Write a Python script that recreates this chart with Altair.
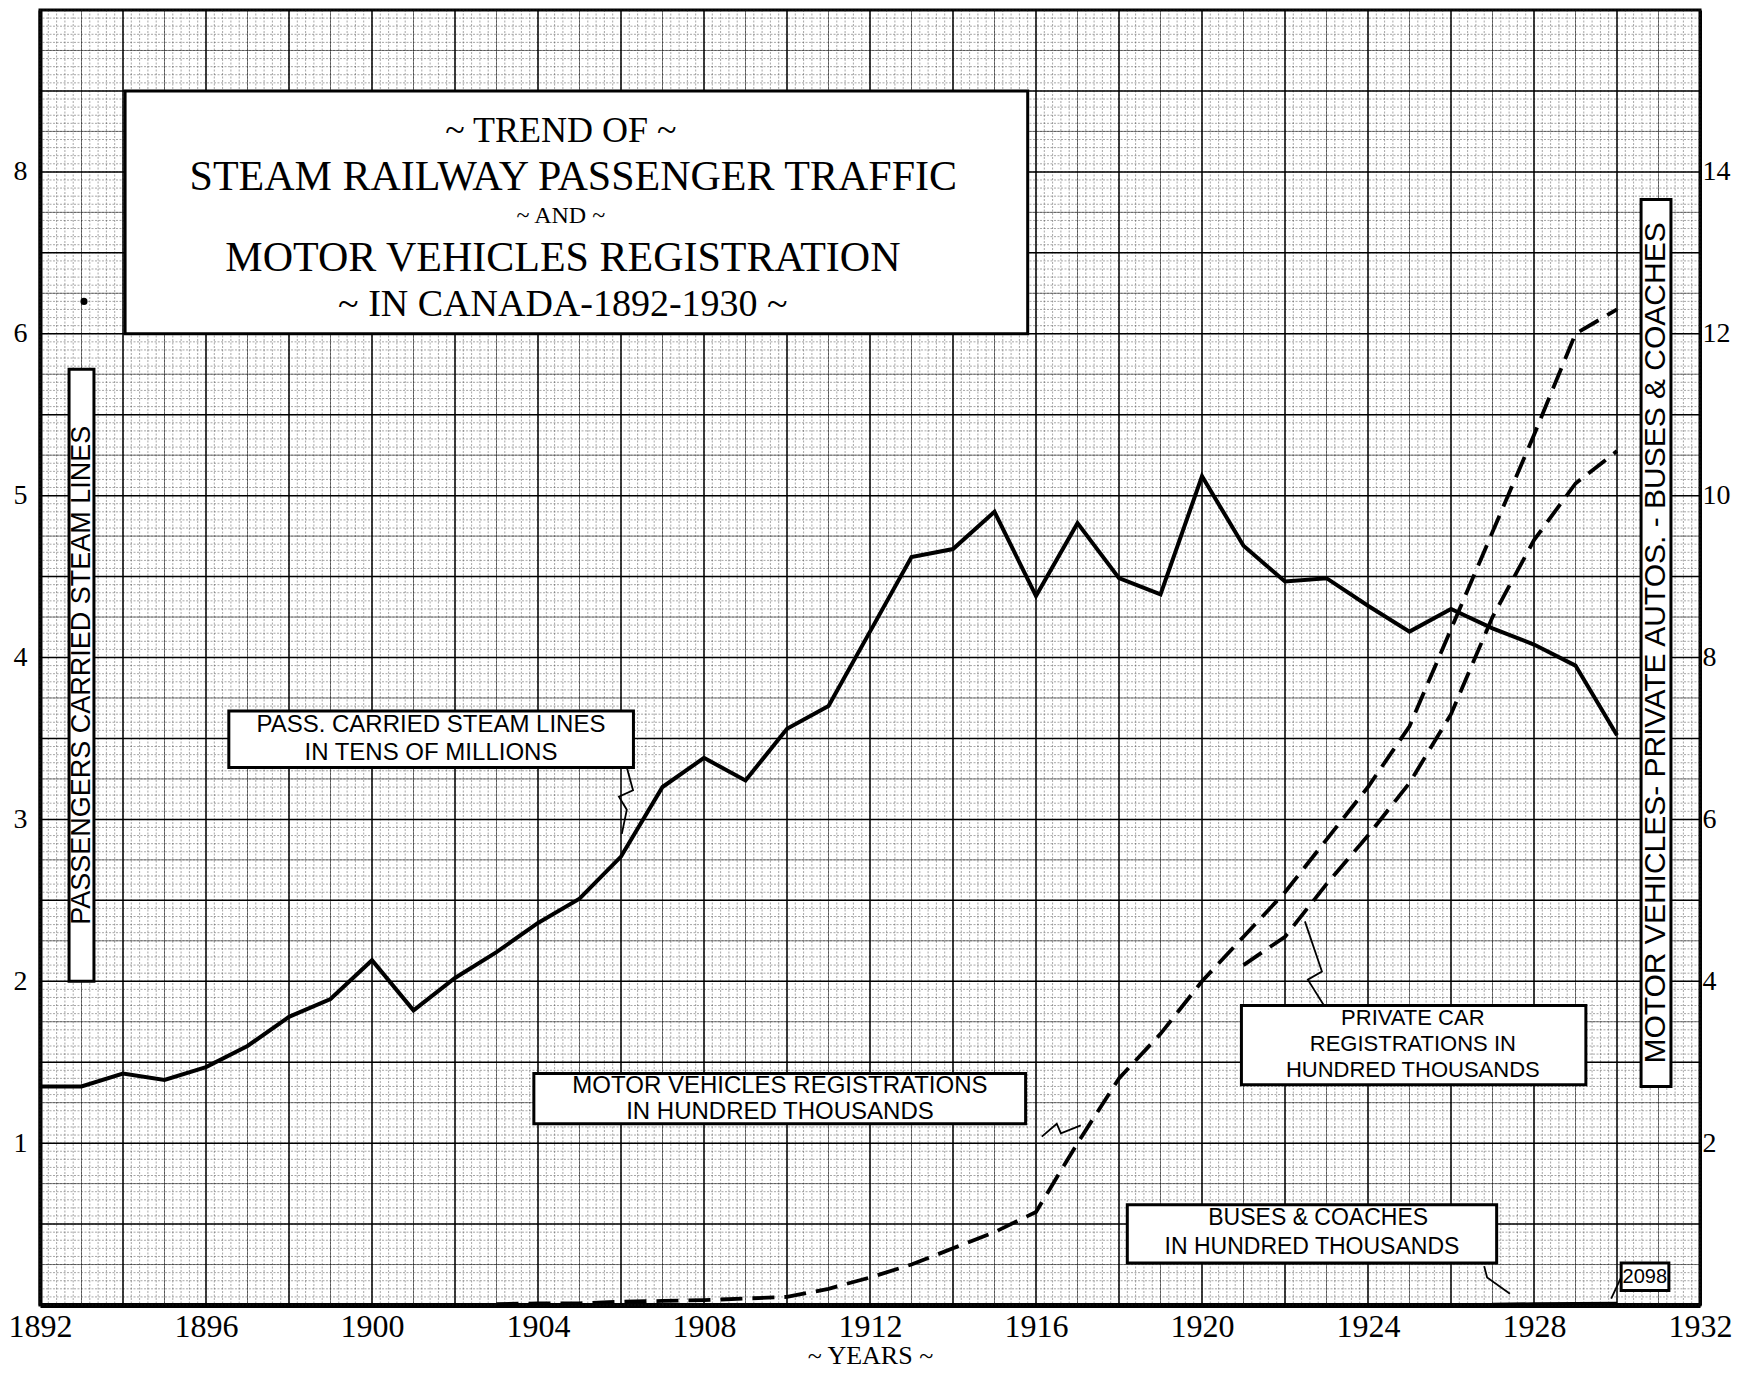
import altair as alt
import numpy as np
import pandas as pd

# ------------------------------------------------------------------ data
pass_years = list(range(1892, 1931))
pass_values = [1.35, 1.35, 1.43, 1.39, 1.47, 1.60, 1.78, 1.89, 2.13, 1.82,
               2.02, 2.18, 2.36, 2.51, 2.77, 3.20, 3.38, 3.24, 3.56, 3.70,
               4.16, 4.62, 4.67, 4.90, 4.38, 4.83, 4.49, 4.39, 5.12, 4.69,
               4.47, 4.49, 4.32, 4.16, 4.30, 4.18, 4.08, 3.95, 3.52]

motor_years = list(range(1903, 1931))
motor_values = [0.01, 0.02, 0.02, 0.04, 0.05, 0.06, 0.08, 0.10, 0.20, 0.34,
                0.50, 0.70, 0.90, 1.15, 2.00, 2.80, 3.35, 4.00, 4.55, 5.10,
                5.75, 6.40, 7.15, 8.35, 9.55, 10.75, 12.00, 12.30]

private_years = list(range(1921, 1931))
private_values = [4.20, 4.55, 5.20, 5.80, 6.45, 7.30, 8.50, 9.45, 10.15, 10.55]

bus_years = [1927, 1928, 1929, 1930]
bus_values = [0.01, 0.015, 0.02, 0.021]

x_tick_labels = list(range(1892, 1933, 4))
left_ticks = [1, 2, 3, 4, 5, 6, 7]
right_ticks = [2, 4, 6, 8, 10, 12, 14]

# ------------------------------------------------------------------ annotation layout (data units)
box_x1 = [1894.05, 1896.55, 1903.9, 1920.95, 1918.2, 1930.1, 1892.7, 1930.58]
box_x2 = [1915.8, 1906.3, 1915.75, 1929.25, 1927.1, 1931.25, 1893.3, 1931.3]
box_y1 = [6.0, 3.32, 1.12, 1.36, 0.26, 0.09, 2.0, 1.35]
box_y2 = [7.5, 3.67, 1.43, 1.85, 0.62, 0.26, 5.78, 6.83]

title_text = ["~  TREND  OF  ~", "STEAM  RAILWAY  PASSENGER  TRAFFIC", "~ AND ~",
              "MOTOR  VEHICLES  REGISTRATION", "~ IN CANADA-1892-1930 ~"]
title_x = [1904.55, 1904.85, 1904.55, 1904.6, 1904.6]
title_y = [7.25, 6.97, 6.73, 6.465, 6.18]
title_size = [36, 42, 24, 42, 38]

label_text = ["PASS. CARRIED STEAM LINES", "IN TENS OF MILLIONS",
              "MOTOR VEHICLES REGISTRATIONS", "IN HUNDRED THOUSANDS",
              "PRIVATE    CAR", "REGISTRATIONS  IN", "HUNDRED THOUSANDS",
              "BUSES &  COACHES", "IN HUNDRED THOUSANDS", "2098"]
label_x = [1901.42, 1901.42, 1909.83, 1909.83, 1925.08, 1925.08, 1925.08,
           1922.8, 1922.65, 1930.67]
label_y = [3.585, 3.41, 1.355, 1.19, 1.77, 1.61, 1.45, 0.54, 0.36, 0.173]
label_size = [24, 24, 24, 24, 22, 22, 22, 23, 23, 20]

vert_text = ["PASSENGERS   CARRIED   STEAM   LINES",
             "MOTOR VEHICLES- PRIVATE AUTOS. - BUSES & COACHES"]
vert_x = [1893.0, 1930.94]
vert_y = [3.89, 4.09]
vert_size = [27, 30]

leader_group = ["p"] * 5 + ["m"] * 4 + ["c"] * 4 + ["b"] * 3 + ["h"] * 2
leader_x = [1906.14, 1906.29, 1905.95, 1906.14, 1906.02,
            1916.14, 1916.5, 1916.6, 1917.08,
            1922.94, 1922.55, 1922.89, 1922.48,
            1926.8, 1926.87, 1927.42,
            1930.1, 1929.86]
leader_y = [3.32, 3.18, 3.14, 3.06, 2.91,
            1.04, 1.12, 1.06, 1.11,
            1.85, 2.01, 2.06, 2.37,
            0.24, 0.17, 0.07,
            0.17, 0.04]

dot_x = [1893.06]
dot_y = [6.2]

# ------------------------------------------------------------------ scales / helpers
W, H = 1660, 1295
XS = alt.Scale(domain=[1892, 1932], nice=False, zero=False)
LS = alt.Scale(domain=[0, 8], nice=False, zero=False)
RS = alt.Scale(domain=[0, 16], nice=False, zero=False)

SERIF = "Liberation Serif"
SANS = "Liberation Sans"

x_axis = alt.Axis(values=x_tick_labels, format="d", ticks=False, domain=True,
                  domainWidth=5, domainColor="black", labelFont=SERIF,
                  labelFontSize=32, labelColor="black", labelPadding=6,
                  labelFlush=False, title="~ YEARS ~", titleFont=SERIF,
                  titleFontSize=26, titleFontWeight="normal", titleColor="black",
                  titlePadding=0, grid=False)


def X(field):
    return alt.X(f"{field}:Q", scale=XS, axis=x_axis)


def YL(field, axis=None):
    return alt.Y(f"{field}:Q", scale=LS, axis=axis)


def YR(field, axis=None):
    return alt.Y(f"{field}:Q", scale=RS, axis=axis)


# ------------------------------------------------------------------ graph-paper grid
minor_v = pd.DataFrame({"gx": np.round(np.arange(1892, 1932.0001, 0.2), 3)})
mid_v = pd.DataFrame({"gx": np.arange(1893, 1932, 2)})
major_v = pd.DataFrame({"gx": np.arange(1894, 1932, 2)})
minor_h = pd.DataFrame({"gy": np.round(np.arange(0, 8.0001, 0.05), 3)})
mid_h = pd.DataFrame({"gy": np.arange(0.25, 8, 0.5)})
major_h = pd.DataFrame({"gy": np.arange(0.5, 8, 0.5)})

g1 = alt.Chart(minor_v).mark_rule(color="#222", strokeWidth=0.8, opacity=0.5,
                                  strokeDash=[2, 1.5]).encode(x=X("gx"))
g2 = alt.Chart(minor_h).mark_rule(color="#222", strokeWidth=0.8, opacity=0.5,
                                  strokeDash=[2, 1.5]).encode(y=YL("gy"))
g3 = alt.Chart(mid_v).mark_rule(color="#111", strokeWidth=0.9, opacity=0.6).encode(x=X("gx"))
g4 = alt.Chart(mid_h).mark_rule(color="#111", strokeWidth=0.9, opacity=0.6).encode(y=YL("gy"))
g5 = alt.Chart(major_v).mark_rule(color="black", strokeWidth=1.5).encode(x=X("gx"))
g6 = alt.Chart(major_h).mark_rule(color="black", strokeWidth=1.5).encode(y=YL("gy"))

# ------------------------------------------------------------------ data lines
pass_df = pd.DataFrame({"year": pass_years, "v": pass_values})
motor_df = pd.DataFrame({"year": motor_years, "v": motor_values})
private_df = pd.DataFrame({"year": private_years, "v": private_values})
bus_df = pd.DataFrame({"year": bus_years, "v": bus_values})

left_axis = alt.Axis(orient="left", values=left_ticks,
                     labelExpr="datum.value == 7 ? '8' : datum.label",
                     ticks=False, domain=True, domainWidth=4, domainColor="black",
                     labelFont=SERIF, labelFontSize=28, labelColor="black",
                     labelAlign="center", labelPadding=20, title=None, grid=False)
right_axis = alt.Axis(orient="right", values=right_ticks, ticks=False, domain=True,
                      domainWidth=3, domainColor="black", labelFont=SERIF,
                      labelFontSize=28, labelColor="black", labelAlign="left",
                      labelPadding=2, title=None, grid=False)

pass_line = alt.Chart(pass_df).mark_line(color="black", strokeWidth=4).encode(
    x=X("year"), y=YL("v", left_axis))
motor_line = alt.Chart(motor_df).mark_line(color="black", strokeWidth=3.8,
                                           strokeDash=[22, 10]).encode(
    x=X("year"), y=YR("v", right_axis))
private_line = alt.Chart(private_df).mark_line(color="black", strokeWidth=3.8,
                                               strokeDash=[22, 10]).encode(
    x=X("year"), y=YR("v"))
bus_line = alt.Chart(bus_df).mark_line(color="black", strokeWidth=3).encode(
    x=X("year"), y=YR("v"))

# ------------------------------------------------------------------ annotations
box_df = pd.DataFrame({"x1": box_x1, "x2": box_x2, "y1": box_y1, "y2": box_y2})
boxes = alt.Chart(box_df).mark_rect(fill="white", stroke="black", strokeWidth=3).encode(
    x=X("x1"), x2="x2:Q", y=YL("y1"), y2="y2:Q")

title_df = pd.DataFrame({"x": title_x, "y": title_y, "t": title_text, "s": title_size})
titles = alt.Chart(title_df).mark_text(font=SERIF, color="black", align="center",
                                       baseline="middle").encode(
    x=X("x"), y=YL("y"), text="t:N", size=alt.Size("s:Q", scale=None, legend=None))

label_df = pd.DataFrame({"x": label_x, "y": label_y, "t": label_text, "s": label_size})
labels = alt.Chart(label_df).mark_text(font=SANS, color="black", align="center",
                                       baseline="middle").encode(
    x=X("x"), y=YL("y"), text="t:N", size=alt.Size("s:Q", scale=None, legend=None))

vert_df = pd.DataFrame({"x": vert_x, "y": vert_y, "t": vert_text, "s": vert_size})
verts = alt.Chart(vert_df).mark_text(font=SANS, color="black", align="center",
                                     baseline="middle", angle=270).encode(
    x=X("x"), y=YL("y"), text="t:N", size=alt.Size("s:Q", scale=None, legend=None))

leader_df = pd.DataFrame({"g": leader_group, "x": leader_x, "y": leader_y,
                          "o": list(range(len(leader_x)))})
leaders = alt.Chart(leader_df).mark_line(color="black", strokeWidth=1.8).encode(
    x=X("x"), y=YL("y"), detail="g:N", order="o:Q")

dot_df = pd.DataFrame({"x": dot_x, "y": dot_y})
dot = alt.Chart(dot_df).mark_circle(color="black", size=50, opacity=1).encode(
    x=X("x"), y=YL("y"))

chart = alt.layer(
    g1, g2, g3, g4, g5, g6,
    pass_line, motor_line, private_line, bus_line,
    boxes, titles, labels, verts, leaders, dot,
).resolve_scale(y="independent").properties(
    width=W, height=H,
    autosize=alt.AutoSizeParams(type="none"),
    padding={"left": 32, "top": 2, "right": 45, "bottom": 66},
    background="white",
).configure_view(stroke="black", strokeWidth=3).configure_axis(grid=False)

chart.save("out.html", embed_options={"renderer": "svg", "actions": False})
